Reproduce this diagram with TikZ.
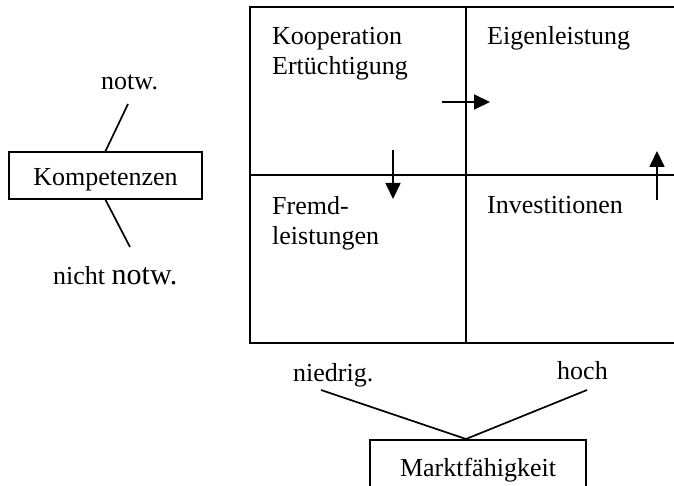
\documentclass[tikz,border=0pt]{standalone}
\usepackage{fontspec}
\setmainfont{Liberation Serif}
\usetikzlibrary{arrows.meta}
\begin{document}
\begin{tikzpicture}[x=1pt,y=-1pt,
  ln/.style={line width=1.7pt},
  arr/.style={line width=1.7pt,-{Triangle[length=16pt,width=15pt]}},
  lbl/.style={inner sep=0pt,anchor=base west,font=\fontsize{26}{31}\selectfont},
  cbox/.style={draw,line width=1.7pt,inner xsep=0pt,inner ysep=0pt,font=\fontsize{26}{31}\selectfont}]
\useasboundingbox (0,0) rectangle (674,486);
% grid
\draw[ln] (250,7) -- (250,343);
\draw[ln] (249,7) -- (676,7);
\draw[ln] (249,175) -- (676,175);
\draw[ln] (249,343) -- (676,343);
\draw[ln] (466,7) -- (466,343);
% quadrant labels
\node[lbl] (koop) at (272,45) {Kooperation};
\node[lbl] (ertu) at (272,75) {Ertüchtigung};
\node[lbl] (eigen) at (487,45) {Eigenleistung};
\node[lbl] (fremd) at (272,215) {Fremd-};
\node[lbl] (leist) at (272,244) {leistungen};
\node[lbl] (inv) at (487,214) {Investitionen};
% arrows
\coordinate (a1s) at (442,102); \coordinate (a1e) at (490,102);
\draw[arr] (a1s) -- (a1e);
\coordinate (a2s) at (393,150); \coordinate (a2e) at (393,199);
\draw[arr] (a2s) -- (a2e);
\coordinate (a3s) at (657,200); \coordinate (a3e) at (657,151);
\draw[arr] (a3s) -- (a3e);
% Kompetenzen
\node[cbox,minimum width=193pt,text height=34pt,text depth=13pt] (komp) at (105.5,175.5) {Kompetenzen};
\node[lbl] (notw) at (101,90) {notw.};
\node[lbl] (nnotw) at (53,284) {nicht {\fontsize{30}{34}\selectfont notw.}};
\coordinate (k1) at (128,104);
\coordinate (k2) at (130,247);
\draw[ln] (k1) -- (komp.north);
\draw[ln] (komp.south) -- (k2);
% Marktfaehigkeit
\node[cbox,anchor=north,minimum width=216pt,text height=37pt,text depth=25pt] (mf) at (478,439) {Marktfähigkeit};
\node[lbl] (nied) at (293,381) {niedrig.};
\node[lbl] (hoch) at (557,379) {hoch};
\coordinate (m1) at (321,390);
\coordinate (m2) at (587,390);
\coordinate (apex) at (466,439);
\draw[ln] (m1) -- (apex) -- (m2);
\end{tikzpicture}
\end{document}
